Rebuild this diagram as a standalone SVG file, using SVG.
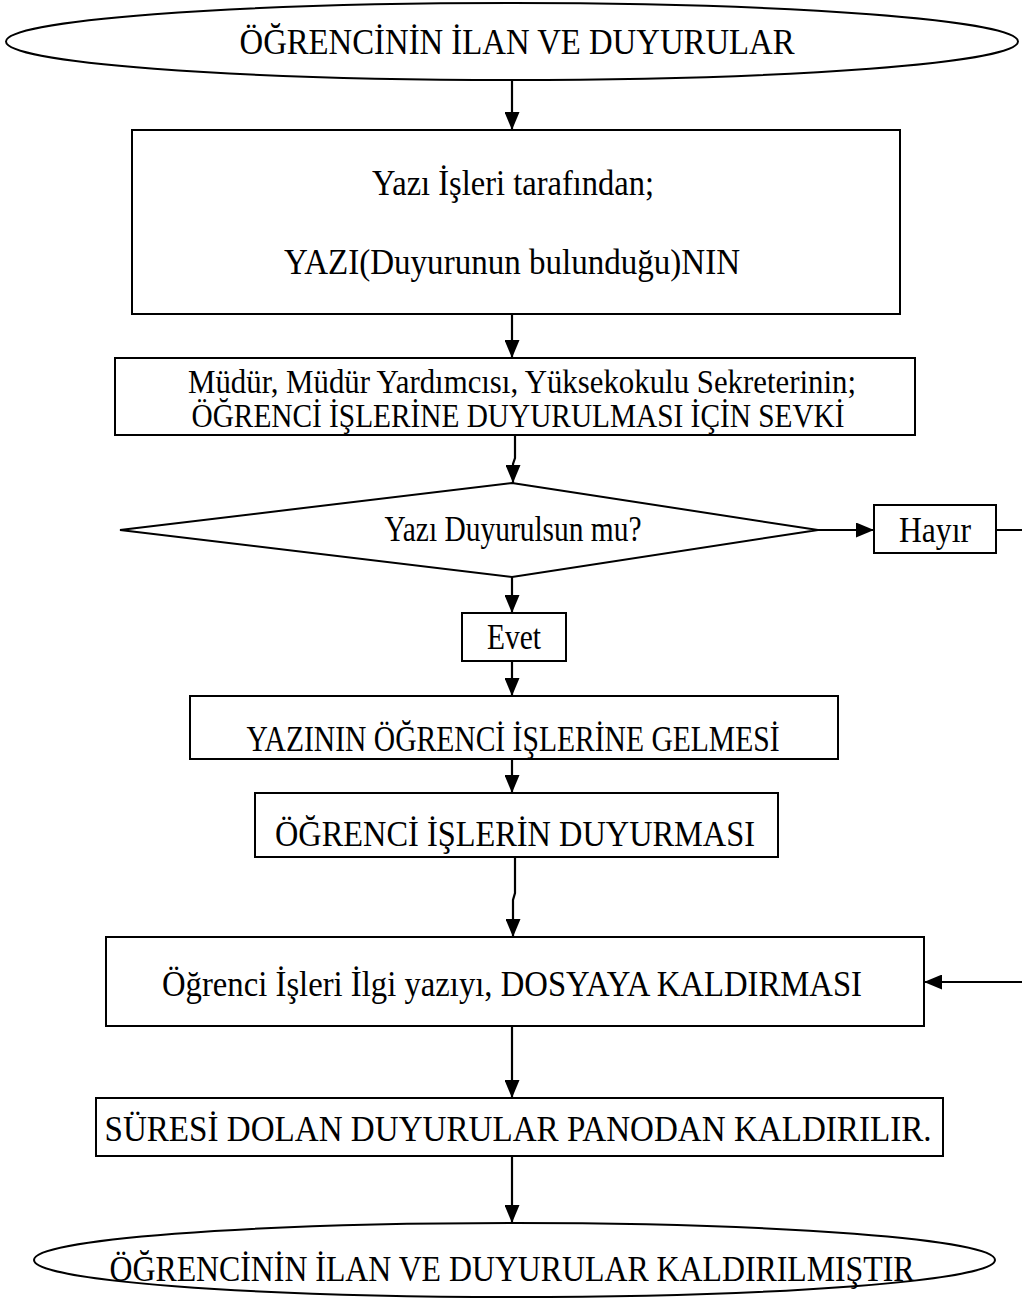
<svg xmlns="http://www.w3.org/2000/svg" width="1022" height="1298" viewBox="0 0 1022 1298">
  <style>
    .shape { fill: #ffffff; stroke: #000000; stroke-width: 2; }
    .link { fill: none; stroke: #000000; stroke-width: 2.2; }
    .label { font-family: "Liberation Serif", "Times New Roman", serif; font-size: 36px; fill: #000000; text-anchor: middle; }
    .small { font-size: 33px; }
  </style>
  <defs>
    <marker id="arrow" markerUnits="userSpaceOnUse" markerWidth="18" markerHeight="15" refX="18" refY="7.5" orient="auto">
      <path d="M0,0 L18,7.5 L0,15 Z" fill="#000000"/>
    </marker>
  </defs>
  <rect width="1022" height="1298" fill="#ffffff"/>

  <!-- connectors -->
  <g id="connectors">
    <path class="link" d="M512,80 V130" marker-end="url(#arrow)"/>
    <path class="link" d="M512,313 V358" marker-end="url(#arrow)"/>
    <path class="link" d="M515,435 V458 L513,464 V483" marker-end="url(#arrow)"/>
    <path class="link" d="M818,530 H874" marker-end="url(#arrow)"/>
    <path class="link" d="M996,530 H1030 V982 H924" marker-end="url(#arrow)"/>
    <path class="link" d="M512,577 V613" marker-end="url(#arrow)"/>
    <path class="link" d="M512,661 V696" marker-end="url(#arrow)"/>
    <path class="link" d="M512,759 V793" marker-end="url(#arrow)"/>
    <path class="link" d="M515,857 V893 L513,900 V937" marker-end="url(#arrow)"/>
    <path class="link" d="M512,1026 V1098" marker-end="url(#arrow)"/>
    <path class="link" d="M512,1156 V1223" marker-end="url(#arrow)"/>
  </g>

  <!-- start terminator -->
  <g id="start">
    <ellipse class="shape" cx="512" cy="41.5" rx="506" ry="38.5"/>
    <text class="label" x="517" y="54" textLength="555" lengthAdjust="spacingAndGlyphs">ÖĞRENCİNİN İLAN VE DUYURULAR</text>
  </g>

  <!-- writing office step -->
  <g id="yazi-isleri">
    <rect class="shape" x="132" y="130" width="768" height="184"/>
    <text class="label" x="513" y="195" textLength="282" lengthAdjust="spacingAndGlyphs">Yazı İşleri tarafından;</text>
    <text class="label" x="512" y="274" textLength="456" lengthAdjust="spacingAndGlyphs">YAZI(Duyurunun bulunduğu)NIN</text>
  </g>

  <!-- management referral -->
  <g id="sevk">
    <rect class="shape" x="115" y="358" width="800" height="77"/>
    <text class="label small" x="522" y="393" textLength="668" lengthAdjust="spacingAndGlyphs">Müdür, Müdür Yardımcısı, Yüksekokulu Sekreterinin;</text>
    <text class="label small" x="518" y="427" textLength="653" lengthAdjust="spacingAndGlyphs">ÖĞRENCİ İŞLERİNE DUYURULMASI İÇİN SEVKİ</text>
  </g>

  <!-- decision -->
  <g id="karar">
    <polygon class="shape" points="512,483 818,530 512,577 120,530"/>
    <text class="label" x="513" y="541" textLength="257" lengthAdjust="spacingAndGlyphs">Yazı Duyurulsun mu?</text>
  </g>

  <g id="hayir">
    <rect class="shape" x="874" y="505" width="122" height="48"/>
    <text class="label" x="935" y="542" textLength="72" lengthAdjust="spacingAndGlyphs">Hayır</text>
  </g>

  <g id="evet">
    <rect class="shape" x="462" y="613" width="104" height="48"/>
    <text class="label" x="514" y="649" textLength="54" lengthAdjust="spacingAndGlyphs">Evet</text>
  </g>

  <g id="gelmesi">
    <rect class="shape" x="190" y="696" width="648" height="63"/>
    <text class="label" x="513" y="751" textLength="533" lengthAdjust="spacingAndGlyphs">YAZININ ÖĞRENCİ İŞLERİNE GELMESİ</text>
  </g>

  <g id="duyurma">
    <rect class="shape" x="255" y="793" width="523" height="64"/>
    <text class="label" x="515" y="846" textLength="480" lengthAdjust="spacingAndGlyphs">ÖĞRENCİ İŞLERİN DUYURMASI</text>
  </g>

  <g id="dosyalama">
    <rect class="shape" x="106" y="937" width="818" height="89"/>
    <text class="label" x="512" y="996" textLength="700" lengthAdjust="spacingAndGlyphs">Öğrenci İşleri İlgi yazıyı, DOSYAYA KALDIRMASI</text>
  </g>

  <g id="panodan">
    <rect class="shape" x="96" y="1098" width="847" height="58"/>
    <text class="label" x="518" y="1141" textLength="827" lengthAdjust="spacingAndGlyphs">SÜRESİ DOLAN DUYURULAR PANODAN KALDIRILIR.</text>
  </g>

  <!-- end terminator -->
  <g id="end">
    <ellipse class="shape" cx="514.5" cy="1260" rx="480.5" ry="37"/>
    <text class="label" x="512" y="1281" textLength="805" lengthAdjust="spacingAndGlyphs">ÖĞRENCİNİN İLAN VE DUYURULAR KALDIRILMIŞTIR</text>
  </g>
</svg>
